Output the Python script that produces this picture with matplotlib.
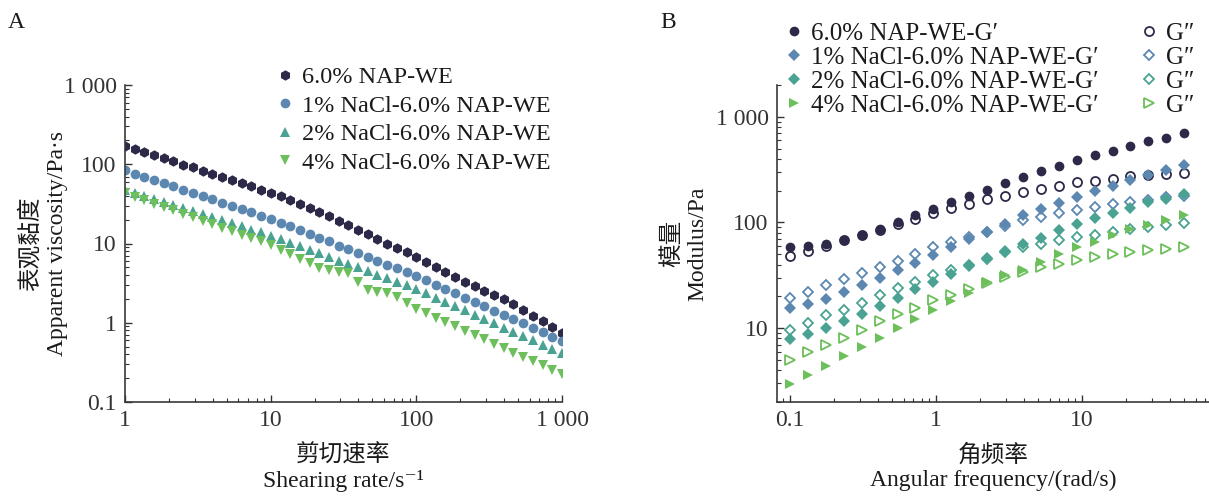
import matplotlib
matplotlib.use("Agg")
import matplotlib.pyplot as plt

plt.rcParams['font.family'] = ['Liberation Serif', 'Noto Sans CJK SC', 'DejaVu Serif']
plt.rcParams['font.size'] = 17
plt.rcParams['text.color'] = '#1a1a1a'
plt.rcParams['axes.labelcolor'] = '#1a1a1a'
plt.rcParams['xtick.color'] = '#333333'
plt.rcParams['ytick.color'] = '#333333'

# ==================== DATA ====================

# Panel A: apparent viscosity vs shearing rate
shear_rate = [1, 1.17, 1.36, 1.58, 1.85, 2.15, 2.51, 2.93, 3.41, 3.98, 4.64, 5.41, 6.31,
              7.36, 8.58, 10, 11.7, 13.6, 15.8, 18.5, 21.5, 25.1, 29.3, 34.1, 39.8, 46.4,
              54.1, 63.1, 73.6, 85.8, 100, 117, 136, 158, 185, 215, 251, 293, 341, 398,
              464, 541, 631, 736, 858, 1000]

visc_0 = [171, 156, 143, 130, 119, 109, 99, 91, 83, 76, 69, 63, 58, 53, 48, 44, 39.3,
          35.2, 31.4, 28.1, 25.1, 22.0, 19.3, 16.9, 14.8, 13.0, 11.4, 10.0, 8.8, 7.7,
          6.8, 5.9, 5.1, 4.4, 3.8, 3.3, 2.9, 2.55, 2.24, 1.97, 1.73, 1.46, 1.23, 1.04,
          0.88, 0.74]
visc_1 = [84, 76, 70, 63, 58, 52.5, 47.8, 43.5, 39.6, 36.1, 32.8, 29.9, 27.2, 24.8, 22.5,
          20.5, 18.4, 16.4, 14.7, 13.2, 11.8, 10.6, 9.4, 8.5, 7.6, 6.8, 6.1, 5.4, 4.9,
          4.4, 3.9, 3.44, 3.03, 2.67, 2.36, 2.08, 1.83, 1.61, 1.42, 1.26, 1.11, 0.98,
          0.86, 0.76, 0.67, 0.59]
visc_2 = [47.9, 43.8, 40.1, 36.6, 33.5, 30.7, 28.1, 25.6, 23.5, 21.5, 19.6, 18.0, 16.4,
          15.0, 13.8, 12.6, 11.4, 10.2, 9.2, 8.3, 7.5, 6.8, 6.1, 5.5, 5.0, 4.5, 4.0,
          3.65, 3.29, 2.96, 2.67, 2.36, 2.08, 1.84, 1.62, 1.43, 1.26, 1.11, 0.98, 0.87,
          0.77, 0.68, 0.60, 0.53, 0.46, 0.41]
visc_4 = [43, 38.9, 35.2, 31.8, 28.8, 26.1, 23.6, 21.3, 19.3, 17.5, 15.8, 14.3, 12.9,
          11.7, 10.6, 9.6, 8.4, 7.3, 6.4, 5.6, 4.9, 4.6, 4.4, 4.2, 3.3, 2.6, 2.45, 2.35,
          2.1, 1.75, 1.5, 1.32, 1.16, 1.03, 0.90, 0.79, 0.70, 0.62, 0.54, 0.48, 0.42,
          0.37, 0.33, 0.29, 0.25, 0.224]

labels_a = ['6.0% NAP-WE', '1% NaCl-6.0% NAP-WE', '2% NaCl-6.0% NAP-WE', '4% NaCl-6.0% NAP-WE']

# Panel B: modulus vs angular frequency
ang_freq = [0.100, 0.133, 0.176, 0.233, 0.310, 0.411, 0.545, 0.722, 0.958, 1.27, 1.69,
            2.24, 2.97, 3.93, 5.22, 6.92, 9.18, 12.2, 16.2, 21.4, 28.4, 37.7, 50.0]

g1_0 = [58.8, 60, 63, 68, 75.8, 86, 101, 117, 134, 155, 177, 205, 234, 267, 304, 344,
        389, 434, 477, 532, 593, 634, 698]
g2_0 = [48, 53.5, 60, 68, 75.8, 84.6, 95.7, 107.6, 121.7, 135.8, 150, 166, 179, 195,
        208, 222, 239, 248, 259, 275, 281, 287, 295]
g1_1 = [15.6, 16.8, 19, 22, 25.8, 30, 35.3, 41.7, 49.7, 58.8, 70.5, 82, 96, 117, 134,
        153, 175, 199, 221, 251, 281, 313, 347]
g2_1 = [19.3, 22, 25.4, 29, 33.3, 37.9, 43.3, 50.8, 58, 65.5, 72.5, 81.5, 92, 105, 113,
        122, 131, 141, 149, 157, 163, 173, 177]
g1_2 = [7.9, 8.8, 10, 11.6, 13.7, 16.1, 19.3, 23.3, 27.3, 32.8, 38.8, 46, 54, 63, 72,
        84.5, 95.7, 110, 122, 136, 155, 166, 185]
g2_2 = [9.6, 11.1, 13.2, 15, 17.4, 20.4, 24, 27.3, 31.6, 35.8, 40, 45.6, 52.7, 59, 63,
        68, 73, 75.9, 81.5, 86, 90.9, 94, 99]
g1_4 = [2.97, 3.6, 4.4, 5.4, 6.6, 8.0, 10, 12.1, 14.9, 17.9, 21.6, 27.5, 31.5, 35.8,
        42.4, 50.1, 58.8, 65.5, 75.9, 86, 94, 105, 117]
g2_4 = [5.0, 5.9, 6.9, 8.1, 9.7, 11.6, 13.7, 15.6, 18.3, 20.7, 23.3, 26.8, 30.5, 34,
        37.9, 40.8, 44, 47.2, 50.1, 52.7, 54.6, 56.7, 58.8]

labels_b = ['6.0% NAP-WE-G\u2032', '1% NaCl-6.0% NAP-WE-G\u2032',
            '2% NaCl-6.0% NAP-WE-G\u2032', '4% NaCl-6.0% NAP-WE-G\u2032']
label_g2 = 'G\u2033'

colors = ['#2c2a48', '#5b87b0', '#4aa292', '#6cbf5b']


def style_axis(ax):
    """Common spine and tick styling"""
    ax.spines['top'].set_visible(False)
    ax.spines['right'].set_visible(False)
    for s in ['left', 'bottom']:
        ax.spines[s].set_color('#3a3a3a')
        ax.spines[s].set_linewidth(1.2)
    ax.tick_params(which='major', direction='in', length=5, width=1, labelsize=17, pad=6)
    ax.tick_params(which='minor', direction='in', length=3, width=0.8)


fig = plt.figure(figsize=(12.09, 4.96), dpi=100)

# ==================== PANEL A ====================
axA = fig.add_axes([125 / 1209, 1 - 402 / 496, 437 / 1209, 317 / 496])
style_axis(axA)
axA.set_xscale('log')
axA.set_yscale('log')

markers_a = ['h', 'o', '^', 'v']
sizes_a = [7.5, 7, 7, 7]
for vals, m, ms, c, lab in zip([visc_0, visc_1, visc_2, visc_4], markers_a, sizes_a, colors, labels_a):
    axA.plot(shear_rate, vals, linestyle='none', marker=m, ms=ms, color=c,
             markeredgewidth=0, label=lab)

axA.set_xlim(1, 1000)
axA.set_ylim(0.1, 1000)
axA.set_xticks([1, 10, 100, 1000], labels=['1', '10', '100', '1 000'])
axA.set_yticks([0.1, 1, 10, 100, 1000], labels=['0.1', '1', '10', '100', '1 000'])
axA.set_xlabel('剪切速率\nShearing rate/s\u207b\u00b9', linespacing=1.25, labelpad=9)
axA.set_ylabel('表观黏度\nApparent viscosity/Pa\u00b7s', linespacing=1.3, labelpad=-3)

axA.legend(loc='upper left', bbox_to_anchor=(278 / 1209, 1 - 66 / 496),
           bbox_transform=fig.transFigure, frameon=False, fontsize=17.5,
           handlelength=0.6, handletextpad=0.4, labelspacing=0.27, borderpad=0,
           borderaxespad=0)

fig.text(8 / 1209, 1 - 22 / 496, 'A', fontsize=17, va='center')

# ==================== PANEL B ====================
axB = fig.add_axes([777 / 1209, 1 - 402 / 496, 432 / 1209, 317 / 496])
style_axis(axB)
axB.set_xscale('log')
axB.set_yscale('log')

markers_b = ['o', 'D', 'D', '>']
sizes_b = [7, 6, 6, 7]
g1_all = [g1_0, g1_1, g1_2, g1_4]
g2_all = [g2_0, g2_1, g2_2, g2_4]
h1 = []
h2 = []
for i in range(4):
    l1, = axB.plot(ang_freq, g1_all[i], linestyle='none', marker=markers_b[i],
                   ms=sizes_b[i], color=colors[i], markeredgewidth=0, label=labels_b[i])
    l2, = axB.plot(ang_freq, g2_all[i], linestyle='none', marker=markers_b[i],
                   ms=sizes_b[i] - 0.5, markerfacecolor='none', markeredgecolor=colors[i],
                   markeredgewidth=1.3, label=label_g2)
    h1.append(l1)
    h2.append(l2)

axB.set_xlim(0.0815, 74)
axB.set_ylim(2, 2000)
axB.set_xticks([0.1, 1, 10], labels=['0.1', '1', '10'])
axB.set_yticks([10, 100, 1000], labels=['10', '100', '1 000'])
axB.set_xlabel('角频率\nAngular frequency/(rad/s)', linespacing=1.25, labelpad=9)
axB.set_ylabel('模量\nModulus/Pa', linespacing=1.3, labelpad=5)

axB.legend(h1 + h2, labels_b + [label_g2] * 4, ncol=2, loc='upper left',
           bbox_to_anchor=(786 / 1209, 1 - 22 / 496), bbox_transform=fig.transFigure,
           frameon=False, fontsize=18, handlelength=0.6, handletextpad=0.4,
           labelspacing=0.06, columnspacing=1.7, borderpad=0, borderaxespad=0)

fig.text(660 / 1209, 1 - 22 / 496, 'B', fontsize=17, va='center')

fig.savefig('out.png', dpi=100)
